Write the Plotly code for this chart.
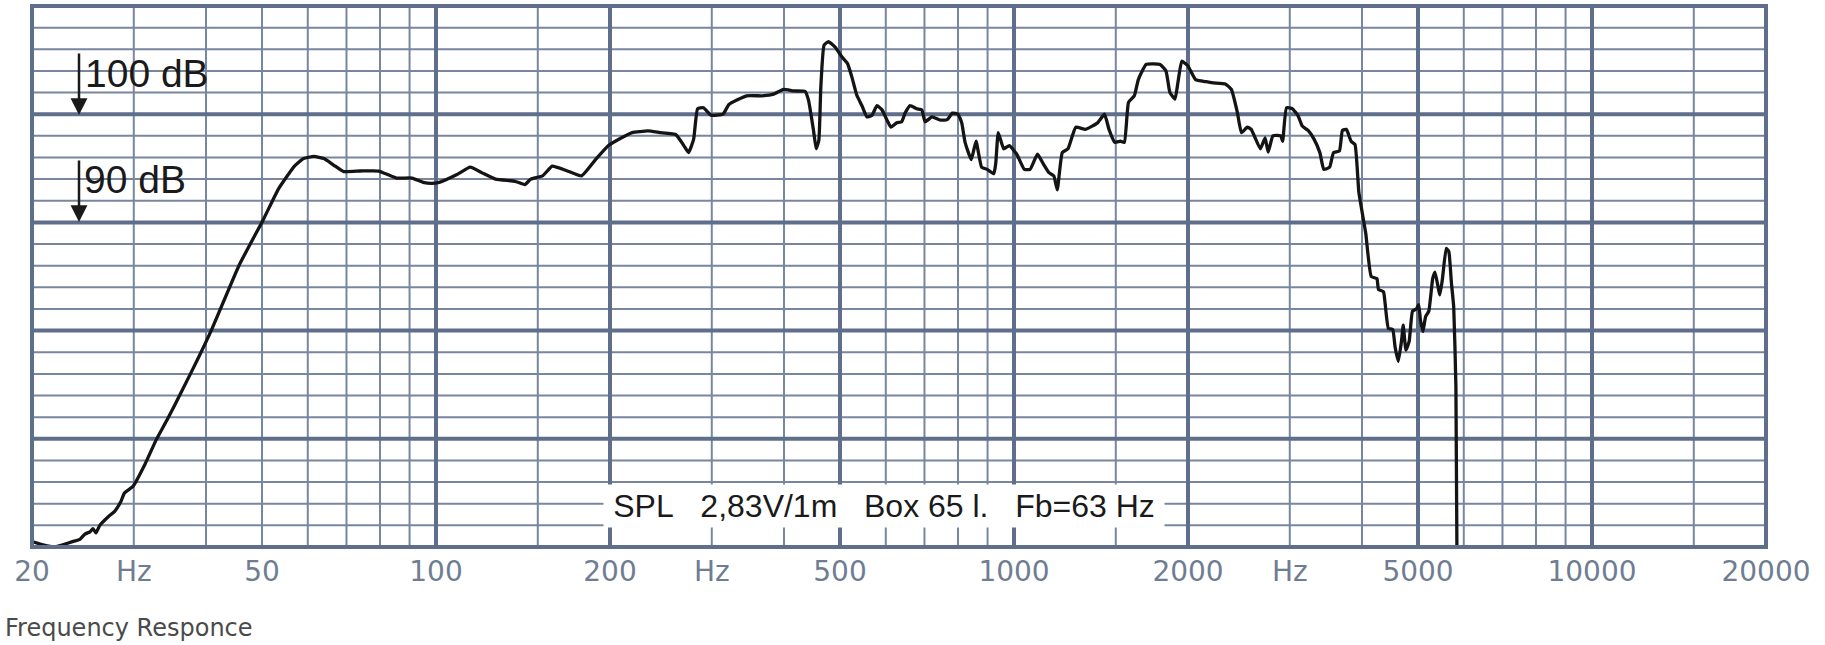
import math
import plotly.graph_objects as go

# ---------------- data ----------------
freq_hz = [
    20.0, 20.9, 21.9, 22.6, 23.5, 24.2, 24.7, 25.2, 25.5, 25.8, 26.2, 27.1, 27.8, 28.5, 28.9,
    29.9, 31.4, 32.8, 34.3, 36.4, 38.9, 41.0, 45.6, 50.3, 53.4, 56.9, 59.0, 61.5, 64.0, 66.5,
    69.2, 74.0, 79.6, 85.4, 90.9, 95.0, 98.2, 101.3, 108.5, 114.6, 120.0, 126.8, 137.0, 142.5,
    145.9, 152.9, 158.9, 168.0, 178.6, 188.8, 198.8, 208.3, 218.4, 232.6, 243.9, 260.1, 268.4,
    273.5, 279.1, 283.5, 290.2, 299.3, 313.7, 321.2, 344.5, 366.8, 383.8, 399.3, 415.6, 435.2,
    441.0, 449.9, 454.7, 459.6, 463.2, 469.3, 477.5, 490.4, 503.7, 515.0, 524.1, 534.7, 545.5,
    556.5, 568.0, 579.3, 591.1, 603.0, 612.5, 626.8, 639.4, 647.9, 661.1, 678.9, 692.6, 701.8,
    721.2, 745.8, 766.4, 782.4, 800.0, 812.0, 822.9, 843.5, 859.7, 879.0, 898.6, 922.6, 930.0,
    939.2, 960.0, 981.5, 1011, 1042, 1066, 1098, 1124, 1149, 1172, 1188, 1212, 1240, 1279,
    1330, 1395, 1434, 1460, 1494, 1528, 1552, 1578, 1615, 1641, 1693, 1789, 1832, 1861, 1899,
    1921, 1951, 1997, 2061, 2150, 2211, 2321, 2377, 2434, 2474, 2533, 2573, 2668, 2719, 2753,
    2805, 2893, 2916, 2961, 3033, 3104, 3153, 3227, 3304, 3382, 3435, 3516, 3571, 3656, 3700,
    3759, 3830, 3890, 3951, 4060, 4150, 4245, 4272, 4357, 4386, 4444, 4521, 4563, 4623, 4685,
    4714, 4765, 4827, 4892, 4969, 5014, 5048, 5099, 5154, 5220, 5301, 5350, 5454, 5509, 5595,
    5653, 5712, 5764, 5815, 5838,
]
spl_db = [
    60.5, 60.2, 60.0, 60.2, 60.5, 60.7, 61.2, 61.4, 61.7, 61.3, 62.0, 62.8, 63.3, 64.2, 65.0,
    65.6, 67.7, 69.9, 71.8, 74.5, 77.6, 80.2, 86.0, 90.3, 93.1, 95.2, 95.9, 96.1, 95.9, 95.3,
    94.7, 94.75, 94.75, 94.1, 94.1, 93.7, 93.6, 93.7, 94.4, 95.1, 94.6, 94.0, 93.8, 93.5,
    94.0, 94.3, 95.2, 94.8, 94.3, 95.8, 97.1, 97.75, 98.3, 98.45, 98.3, 98.1, 97.1,
    96.45, 97.7, 100.5, 100.6, 99.9, 100.0, 100.9, 101.7, 101.7, 101.85, 102.3, 102.15, 102.1,
    101.3, 98.5, 96.8, 97.6, 102.5, 106.4, 106.7, 106.2, 105.3, 104.7, 103.45, 101.75, 100.8,
    99.75, 99.9, 100.8, 100.4, 99.45, 98.8, 99.2, 99.3, 100.1, 100.8, 100.5, 100.4, 99.3,
    99.75, 99.45, 99.5, 100.1, 100.0, 99.2, 97.4, 95.8, 97.5, 95.1, 94.9, 94.5, 95.5,
    98.3, 96.8, 97.1, 96.3, 94.9, 94.9, 96.3, 95.4, 94.6, 94.3, 93.0, 96.45, 96.8, 98.8,
    98.6, 99.2, 100.0, 98.6, 97.4, 97.5, 97.4, 101.1, 101.7, 103.2, 104.6, 104.6, 104.0, 102.0, 101.4,
    102.9, 104.9, 104.5, 103.2, 103.0, 102.9, 102.8, 102.3, 100.2, 98.3, 98.8, 98.6, 96.8, 97.8, 96.5,
    98.0, 98.0, 97.5, 100.6, 100.5, 99.8, 98.9, 98.5, 97.7, 96.45, 94.9, 95.1, 96.45, 96.6, 98.5,
    98.6, 97.5, 97.2, 92.75, 89.0, 85.0, 84.8, 83.8, 83.6, 82.5, 80.2, 80.1, 78.5, 77.15, 79.15,
    80.5, 78.2, 79.0, 81.8, 82.0, 82.4, 81.0, 79.9, 81.3, 81.8, 84.8, 85.4, 83.3, 84.7, 87.6,
    87.3, 84.4, 82.2, 74.8, 60.0,
]

# grid of the chart paper
minor_freqs = [30, 40, 50, 60, 70, 80, 90, 150, 300, 400, 600, 700, 800, 900,
               1500, 3000, 4000, 6000, 7000, 8000, 9000, 15000]
major_freqs = [100, 200, 500, 1000, 2000, 5000, 10000]
minor_db = [62, 64, 66, 68, 72, 74, 76, 78, 82, 84, 86, 88, 92, 94, 96, 98,
            102, 104, 106, 108]
major_db = [70, 80, 90, 100]

# x tick labels
label_freqs = [20, 30, 50, 100, 200, 300, 500, 1000, 2000, 3000, 5000, 10000, 20000]
label_text = ["20", "Hz", "50", "100", "200", "Hz", "500", "1000", "2000", "Hz",
              "5000", "10000", "20000"]

F_MIN, F_MAX = 20, 20000
DB_MIN, DB_MAX = 60, 110

# ---------------- styling ----------------
W, H = 1825, 645
ML, MR, MT, MB = 32, W - 1766, 6, H - 547
PW, PH = W - ML - MR, H - MT - MB
THIN = "#7886a0"
THICK = "#5f6f8b"
LABEL = "#6f7d93"
SANS = "Liberation Sans, Arial, sans-serif"
WIDE = "DejaVu Sans, Verdana, sans-serif"


def px_x(px):
    return (px - ML) / PW


def px_y(py):
    return (H - MB - py) / PH


def vlines(freqs):
    xs, ys = [], []
    for f in freqs:
        xs += [f, f, None]
        ys += [DB_MIN, DB_MAX, None]
    return xs, ys


def hlines(levels):
    xs, ys = [], []
    for d in levels:
        xs += [F_MIN, F_MAX, None]
        ys += [d, d, None]
    return xs, ys


fig = go.Figure()
for builder, vals, col, wid in [
    (hlines, minor_db, THIN, 2),
    (vlines, minor_freqs, THIN, 2),
    (hlines, major_db, THICK, 4),
    (vlines, major_freqs, THICK, 4),
]:
    gx, gy = builder(vals)
    fig.add_trace(go.Scatter(x=gx, y=gy, mode="lines", line=dict(color=col, width=wid),
                             hoverinfo="skip", showlegend=False, connectgaps=False))

fig.add_trace(go.Scatter(x=freq_hz, y=spl_db, mode="lines",
                         line=dict(color="#141414", width=3.3, shape="spline", smoothing=0.4),
                         showlegend=False, name="SPL"))

fig.update_xaxes(type="log", range=[math.log10(F_MIN), math.log10(F_MAX)],
                 showgrid=False, zeroline=False, showline=False,
                 tickmode="array", tickvals=label_freqs, ticktext=label_text, ticks="",
                 ticklabelstandoff=5,
                 tickfont=dict(family=WIDE, size=28, color=LABEL))
fig.update_yaxes(range=[DB_MIN, DB_MAX], showgrid=False, zeroline=False,
                 showline=False, showticklabels=False)

# outer frame
fig.add_shape(type="rect", xref="paper", yref="paper", x0=0, x1=1, y0=0, y1=1,
              line=dict(color=THICK, width=4), layer="above")

annotations = [
    dict(text="100 dB", x=px_x(82.5), y=px_y(73), xanchor="left", yanchor="middle",
         font=dict(family=SANS, size=39, color="#1a1a1a")),
    dict(text="90 dB", x=px_x(82), y=px_y(179), xanchor="left", yanchor="middle",
         font=dict(family=SANS, size=39, color="#1a1a1a")),
    dict(text="SPL\u00a0\u00a0\u00a02,83V/1m\u00a0\u00a0\u00a0Box 65 l.\u00a0\u00a0\u00a0Fb=63 Hz",
         x=px_x(884), y=px_y(506), xanchor="center", yanchor="middle",
         width=556, height=38, borderpad=2, bgcolor="white",
         font=dict(family=SANS, size=32, color="#1a1a1a")),
    dict(text="Frequency Responce", x=px_x(2.5), y=px_y(628), xanchor="left", yanchor="middle",
         font=dict(family=WIDE, size=24, color="#4a4a4a")),
]
for a in annotations:
    fig.add_annotation(xref="paper", yref="paper", showarrow=False, **a)

for tip_y in (115, 222):
    fig.add_annotation(xref="paper", yref="paper", x=px_x(79), y=px_y(tip_y), text="",
                       showarrow=True, ax=0, ay=-63, arrowhead=2, arrowsize=1.35,
                       arrowwidth=2.5, arrowcolor="#1a1a1a")

fig.update_layout(width=W, height=H, autosize=False,
                  margin=dict(l=ML, r=MR, t=MT, b=MB, pad=0),
                  paper_bgcolor="white", plot_bgcolor="white", showlegend=False)

fig.write_html("out.html", config={"displayModeBar": False},
               post_script="document.body.style.margin='0';document.body.style.overflow='hidden';")
